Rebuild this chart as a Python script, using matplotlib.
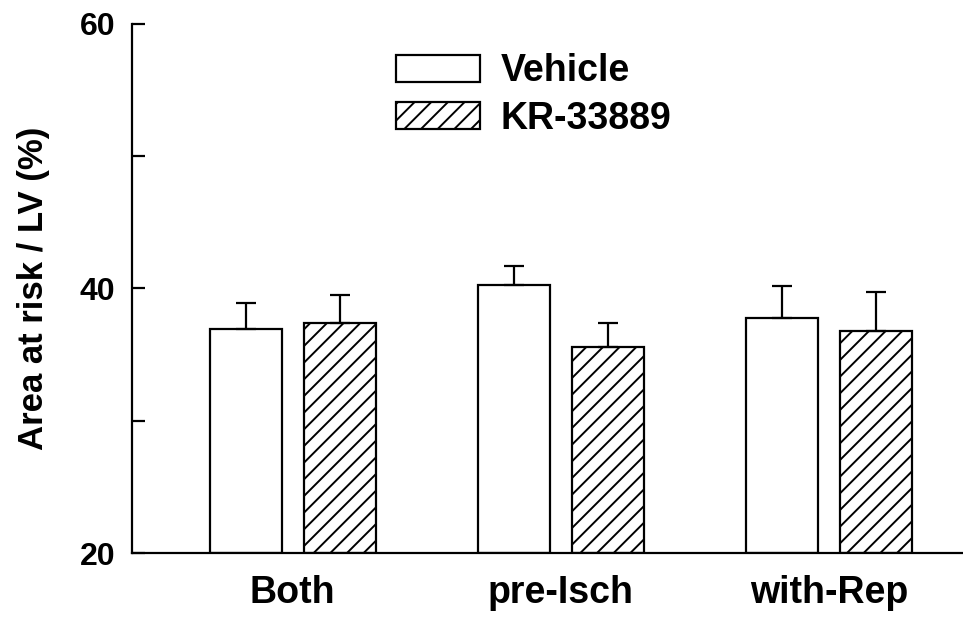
import numpy as np
import matplotlib
matplotlib.use('Agg')
import matplotlib.pyplot as plt
from matplotlib.ticker import MultipleLocator

groups = ['Both', 'pre-Isch', 'with-Rep']
vehicle = [36.9, 40.3, 37.8]
vehicle_err = [2.0, 1.4, 2.4]
kr = [37.4, 35.6, 36.8]
kr_err = [2.1, 1.8, 2.9]

plt.rcParams['font.family'] = ['Liberation Sans', 'DejaVu Sans']
plt.rcParams['font.weight'] = 'bold'
plt.rcParams['hatch.linewidth'] = 1.4

fig = plt.figure(figsize=(9.63, 6.26), dpi=100)
ax = fig.add_axes([0.137, 0.1166, 0.863, 0.8451])

x = np.arange(len(groups))
w = 0.269
off = 0.176
bottom = 20

ax.bar(x - off, np.array(vehicle) - bottom, w, bottom=bottom,
       color='white', edgecolor='black', linewidth=1.6, label='Vehicle')
ax.bar(x + off, np.array(kr) - bottom, w, bottom=bottom,
       color='white', edgecolor='black', linewidth=1.6, hatch='//',
       label='KR-33889')

# upper error bars only
ax.errorbar(x - off, vehicle, yerr=[[0] * 3, vehicle_err], fmt='none',
            ecolor='black', elinewidth=1.6, capsize=7, capthick=1.6)
ax.errorbar(x + off, kr, yerr=[[0] * 3, kr_err], fmt='none',
            ecolor='black', elinewidth=1.6, capsize=7, capthick=1.6)

ax.set_xlim(-0.6, 2.5)
ax.set_ylim(20, 60)
ax.yaxis.set_major_locator(MultipleLocator(20))
ax.yaxis.set_minor_locator(MultipleLocator(10))
ax.tick_params(axis='y', which='both', direction='in', length=9,
               width=1.6, labelsize=23, pad=12)
ax.set_xticks(x)
ax.set_xticklabels(groups, fontsize=27, fontweight='bold')
ax.tick_params(axis='x', length=0, pad=16)

ax.spines['top'].set_visible(False)
ax.spines['right'].set_visible(False)
ax.spines['left'].set_linewidth(1.6)
ax.spines['bottom'].set_linewidth(1.6)

ax.set_ylabel('Area at risk / LV (%)', fontsize=25, fontweight='bold',
              labelpad=21)

ax.legend(loc='upper left', bbox_to_anchor=(0.277, 1.008), frameon=False,
          fontsize=27, handlelength=2.24, handleheight=0.75,
          handletextpad=0.55, labelspacing=0.3)

plt.savefig('out.png', dpi=100)
plt.close()
